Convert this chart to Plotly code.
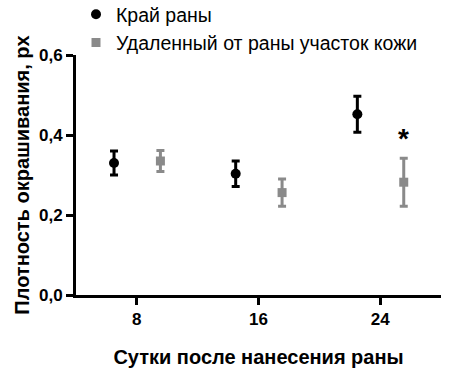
import plotly.graph_objects as go

days = [8, 16, 24]
tick_labels = ["8", "16", "24"]
edge_mean = [0.330, 0.303, 0.452]
edge_err = [0.030, 0.032, 0.045]
far_mean = [0.335, 0.256, 0.282]
far_err = [0.026, 0.034, 0.060]
series_names = ["Край раны", "Удаленный от раны участок кожи"]
offset_edge = -1.5
offset_far = 1.55

BLACK = "#000000"
GRAY = "#8a8a8a"
FONT = "Liberation Sans, Arial"

fig = go.Figure()
fig.add_trace(go.Scatter(
    x=[d + offset_edge for d in days], y=edge_mean, mode="markers",
    name=series_names[0],
    marker=dict(symbol="circle", size=10, color=BLACK),
    error_y=dict(type="data", array=edge_err, visible=True, color=BLACK, thickness=3, width=4),
))
fig.add_trace(go.Scatter(
    x=[d + offset_far for d in days], y=far_mean, mode="markers",
    name=series_names[1],
    marker=dict(symbol="square", size=9, color=GRAY),
    error_y=dict(type="data", array=far_err, visible=True, color=GRAY, thickness=3, width=4),
))

fig.add_annotation(x=days[2] + offset_far, y=far_mean[2] + far_err[2] + 0.05,
                   text="<b>*</b>", showarrow=False,
                   font=dict(size=28, color=BLACK, family=FONT))

fig.update_layout(
    width=449, height=377,
    margin=dict(l=76, r=8, t=55, b=82, autoexpand=False),
    plot_bgcolor="white", paper_bgcolor="white",
    font=dict(family=FONT, color=BLACK),
    showlegend=True,
    legend=dict(x=0, y=1.25, xref="paper", yref="paper", xanchor="left", yanchor="top",
                font=dict(size=19.5, family=FONT),
                bgcolor="rgba(0,0,0,0)", tracegroupgap=0),
    xaxis=dict(range=[4, 28], tickvals=days, ticktext=tick_labels,
               showline=True, linecolor=BLACK, linewidth=3,
               ticks="outside", ticklen=7, tickwidth=3, tickcolor=BLACK,
               showgrid=False, zeroline=False,
               tickfont=dict(size=17, family=FONT, weight="bold"),
               title=dict(text="<b>Сутки после нанесения раны</b>", font=dict(size=20), standoff=22)),
    yaxis=dict(range=[0, 0.6], tickvals=[0, 0.2, 0.4, 0.6], ticktext=["0,0", "0,2", "0,4", "0,6"],
               showline=True, linecolor=BLACK, linewidth=3,
               ticks="outside", ticklen=7, tickwidth=3, tickcolor=BLACK,
               showgrid=False, zeroline=False,
               tickfont=dict(size=17, family=FONT, weight="bold"),
               title=dict(text="<b>Плотность окрашивания, px</b>", font=dict(size=20), standoff=4)),
)

fig.write_html("out.html", config={"displayModeBar": False},
               post_script="document.body.style.margin='0';")
